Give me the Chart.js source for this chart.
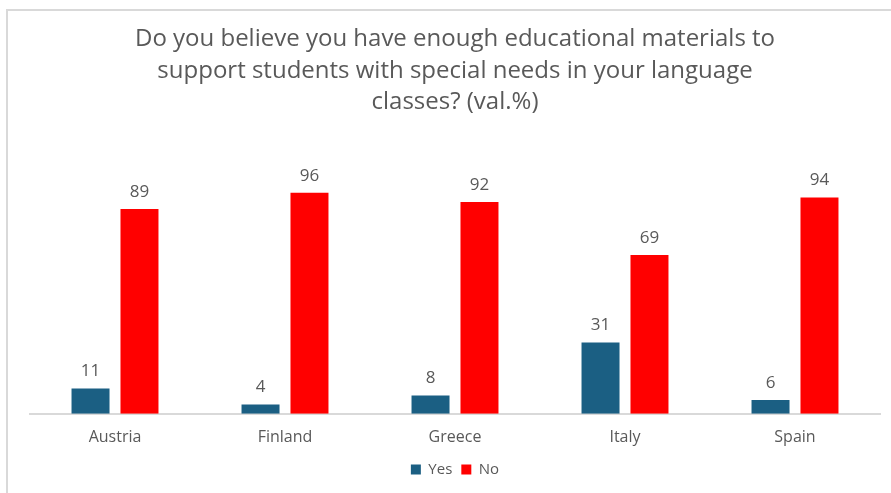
<!DOCTYPE html>
<html>
<head>
<meta charset="utf-8">
<script src="https://cdn.jsdelivr.net/npm/chart.js@4/dist/chart.umd.min.js"></script>
<style>
  html, body { margin: 0; padding: 0; background: #fff; overflow: hidden; }
  #frame {
    position: absolute; left: 6px; top: 9px; width: 900px; height: 500px;
    border: 2px solid #d9d9d9; box-sizing: border-box;
  }
  #wrap { position: absolute; left: 0; top: 0; width: 891px; height: 493px; }
</style>
</head>
<body>
<div id="frame"></div>
<div id="wrap"><canvas id="materialsChart"></canvas></div>

<script>
  const countries = ["Austria", "Finland", "Greece", "Italy", "Spain"];
  const yesValues = [11, 4, 8, 31, 6];
  const noValues = [89, 96, 92, 69, 94];
  const titleLines = [
    "Do you believe you have enough educational materials to",
    "support students with special needs in your language",
    "classes? (val.%)"
  ];

  // value labels above each bar
  const barValues = {
    id: "barValues",
    afterDatasetsDraw(chart) {
      const ctx = chart.ctx;
      ctx.save();
      ctx.fillStyle = "#595959";
      ctx.font = "17px 'Open Sans'";
      ctx.textAlign = "center";
      ctx.textBaseline = "middle";
      chart.data.datasets.forEach((ds, i) => {
        chart.getDatasetMeta(i).data.forEach((bar, j) => {
          ctx.fillText(ds.data[j], bar.x, bar.y - 17);
        });
      });
      ctx.restore();
    }
  };

  new Chart("materialsChart", {
    type: "bar",
    data: {
      labels: countries,
      datasets: [{
        label: "Yes",
        data: yesValues,
        backgroundColor: "#1b5f83",
        barPercentage: 0.776,
        categoryPercentage: 0.576
      }, {
        label: "No",
        data: noValues,
        backgroundColor: "#ff0000",
        barPercentage: 0.776,
        categoryPercentage: 0.576
      }]
    },
    plugins: [barValues],
    options: {
      responsive: true,
      maintainAspectRatio: false,
      animation: false,
      layout: {
        padding: {left: 30, right: 11, top: 0, bottom: 6}
      },
      scales: {
        y: {
          display: false,
          min: 0,
          max: 120
        },
        x: {
          grid: {display: false},
          border: {display: true, color: "#d9d9d9", width: 2},
          ticks: {
            color: "#595959",
            font: {family: "'Open Sans'", size: 16},
            padding: 6
          }
        }
      },
      plugins: {
        title: {
          display: true,
          text: titleLines,
          color: "#595959",
          font: {family: "'Open Sans'", size: 24, weight: "normal", lineHeight: 1.3},
          padding: {top: 24, bottom: 20}
        },
        legend: {
          position: "bottom",
          labels: {
            color: "#595959",
            font: {family: "'Open Sans'", size: 15},
            boxWidth: 10,
            boxHeight: 10,
            padding: 9
          }
        },
        tooltip: {enabled: false}
      }
    }
  });
</script>
</body>
</html>
